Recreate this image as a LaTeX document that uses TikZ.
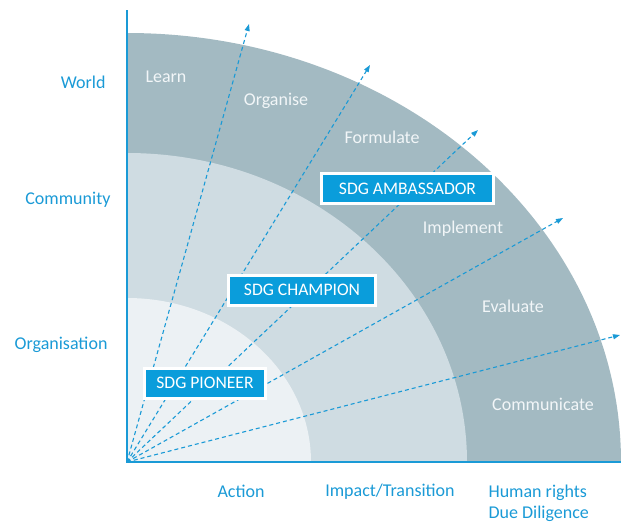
\documentclass[tikz,border=0pt]{standalone}
\usepackage{fontspec}
\setmainfont{Carlito}
\usetikzlibrary{arrows.meta,shadows}
\definecolor{sdgblue}{HTML}{0A9DDB}
\definecolor{axisblue}{HTML}{1A9AD6}
\definecolor{outerband}{HTML}{A3BAC2}
\definecolor{middleband}{HTML}{CFDCE2}
\definecolor{innerband}{HTML}{ECF1F4}
\definecolor{bandtext}{HTML}{F2F6F8}
\begin{document}
\begin{tikzpicture}[x=1pt, y=-1pt,
    ray/.style={axisblue, line width=1.1pt, dash pattern=on 4pt off 3pt, -{Triangle[length=7pt,width=5pt]}},
    stage/.style={text=bandtext, font=\fontsize{18}{21}\selectfont},
    sdgbox/.style={fill=sdgblue, draw=white, line width=3pt, text=white, minimum height=30pt,
        inner xsep=0pt, font=\fontsize{17.6}{20}\selectfont, drop shadow={shadow xshift=1pt, shadow yshift=-1.5pt, opacity=0.35}},
    axislabel/.style={text=axisblue, font=\fontsize{18}{21}\selectfont}]
        \useasboundingbox (0,0) rectangle (621,523);
        \coordinate (origin) at (127,462);
        % Draw bands
        \fill[outerband] (origin) -- ++(494,0) arc[start angle=0, end angle=-90, x radius=494, y radius=429] -- cycle;
        \fill[middleband] (origin) -- ++(340,0) arc[start angle=0, end angle=-90, x radius=340, y radius=309] -- cycle;
        \fill[innerband] (origin) -- ++(184,0) arc[start angle=0, end angle=-90, x radius=184, y radius=164] -- cycle;
        % Draw rays
        \foreach \tip/\px/\py in {learn/249/24, organise/370/65, formulate/478/130, implement/563/218, evaluate/620/335}
            \coordinate (\tip) at (\px,\py);
        \foreach \tip in {learn, organise, formulate, implement, evaluate}
            \draw[ray] (origin) -- (\tip);
        % Draw axes
        \coordinate (ytop) at (127,10);
        \coordinate (xend) at (621,462);
        \draw[axisblue, line width=1.5pt] (ytop) -- (origin) -- (xend);
        % Stage labels
        \node[stage] (learnlbl) at (166,77) {Learn};
        \node[stage] (organiselbl) at (276,101) {Organise};
        \node[stage] (formulatelbl) at (382,137) {Formulate};
        \node[stage] (implementlbl) at (463,229) {Implement};
        \node[stage] (evaluatelbl) at (513,306) {Evaluate};
        \node[stage] (communicatelbl) at (543,404) {Communicate};
        % SDG levels
        \node[sdgbox, minimum width=172pt] (ambassador) at (407.5,188.5) {SDG AMBASSADOR};
        \node[sdgbox, minimum width=147pt] (champion) at (302,290) {SDG CHAMPION};
        \node[sdgbox, minimum width=121pt] (pioneer) at (205,383) {SDG PIONEER};
        % Axis labels
        \node[axislabel, anchor=east] (world) at (109,82) {World};
        \node[axislabel, anchor=east] (community) at (114,200) {Community};
        \node[axislabel, anchor=east] (organisation) at (111,345) {Organisation};
        \node[axislabel] (action) at (241,491) {Action};
        \node[axislabel] (impact) at (390,492) {Impact/Transition};
        \node[axislabel, align=left, anchor=west] (rights) at (485,503) {Human rights\\Due Diligence};
    \end{tikzpicture}
\end{document}
